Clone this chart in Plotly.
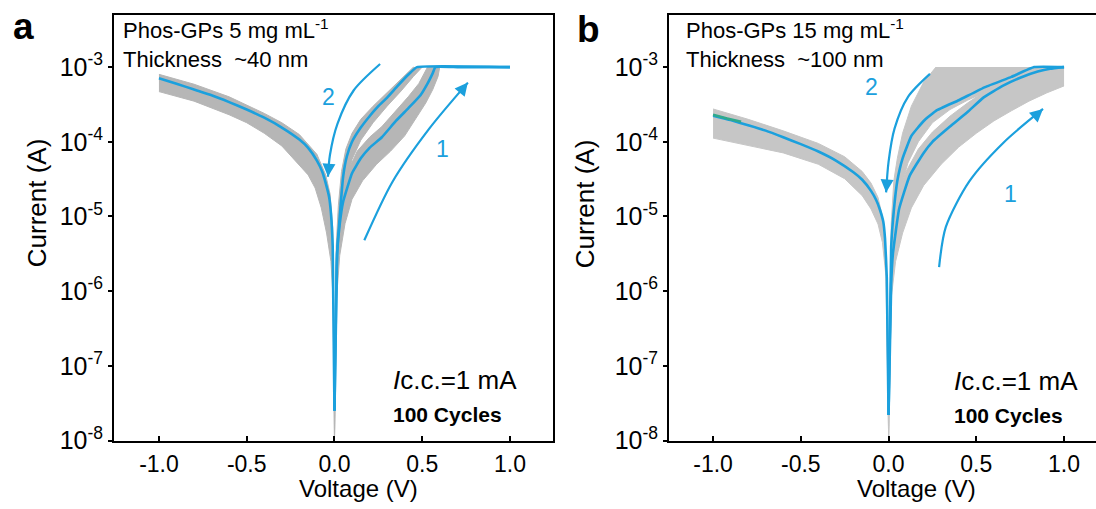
import math
import plotly.graph_objects as go

# ---------------- data ----------------
# Panel a  (Phos-GPs 5 mg/mL, ~40 nm)
a_neg_v = [-1.0, -0.9, -0.8, -0.7, -0.6, -0.5, -0.4, -0.3, -0.2, -0.15, -0.1, -0.07, -0.05, -0.03, -0.02, -0.01, 0.0]
a_neg_i = [7.1e-4, 6.0e-4, 5.0e-4, 4.2e-4, 3.4e-4, 2.7e-4, 2.1e-4, 1.55e-4, 1.07e-4, 8.3e-5, 5.6e-5, 4.0e-5, 2.8e-5, 1.8e-5, 1.1e-5, 4.0e-6, 2.5e-8]
a_set_v = [0.0, 0.015, 0.03, 0.05, 0.1, 0.15, 0.2, 0.27, 0.35, 0.42, 0.49, 0.53, 0.56, 0.575, 0.7, 0.85, 1.0]
a_set_i = [2.5e-8, 3.2e-6, 7.9e-6, 1.6e-5, 3.8e-5, 6.0e-5, 8.3e-5, 1.15e-4, 1.9e-4, 2.8e-4, 4.2e-4, 6.0e-4, 8.3e-4, 1.0e-3, 1.0e-3, 1.0e-3, 1.0e-3]
a_reset_v = [1.0, 0.47, 0.42, 0.36, 0.3, 0.25, 0.2, 0.15, 0.1, 0.07, 0.05, 0.03, 0.015, 0.0]
a_reset_i = [1.0e-3, 1.0e-3, 7.9e-4, 5.6e-4, 3.9e-4, 3.0e-4, 2.2e-4, 1.55e-4, 1.0e-4, 6.3e-5, 3.5e-5, 1.0e-5, 3.2e-6, 2.5e-8]

a_negband_up_v = [-1.0, -0.8, -0.6, -0.5, -0.4, -0.3, -0.2, -0.1, -0.05, -0.025, -0.01, 0.0]
a_negband_up_i = [8.0e-4, 5.9e-4, 4.0e-4, 3.1e-4, 2.4e-4, 1.8e-4, 1.25e-4, 6.8e-5, 3.6e-5, 2.0e-5, 7.0e-6, 1e-8]
a_negband_lo_v = [-1.0, -0.8, -0.6, -0.5, -0.4, -0.3, -0.22, -0.15, -0.11, -0.075, -0.045, -0.02, -0.008, 0.0]
a_negband_lo_i = [4.7e-4, 3.5e-4, 2.3e-4, 1.8e-4, 1.3e-4, 8.8e-5, 5.5e-5, 3.6e-5, 2.4e-5, 1.3e-5, 6.0e-6, 2.5e-6, 8.0e-7, 1e-8]
a_lrsband_up_v = [0.45, 0.38, 0.3, 0.22, 0.15, 0.1, 0.065, 0.04, 0.022, 0.01, 0.0]
a_lrsband_up_i = [1.0e-3, 7.0e-4, 4.6e-4, 3.0e-4, 2.0e-4, 1.3e-4, 8.0e-5, 4.0e-5, 1.4e-5, 4.0e-6, 1e-8]
a_lrsband_lo_v = [0.5, 0.45, 0.38, 0.3, 0.22, 0.15, 0.1, 0.065, 0.04, 0.02, 0.008, 0.0]
a_lrsband_lo_i = [1.0e-3, 7.5e-4, 4.8e-4, 3.0e-4, 1.8e-4, 1.05e-4, 5.8e-5, 2.8e-5, 1.2e-5, 4.0e-6, 1.0e-6, 1e-8]
a_hrsband_up_v = [0.53, 0.48, 0.42, 0.35, 0.27, 0.2, 0.13, 0.08, 0.045, 0.02, 0.008, 0.0]
a_hrsband_up_i = [1.0e-3, 6.0e-4, 4.0e-4, 2.6e-4, 1.6e-4, 1.15e-4, 7.5e-5, 4.2e-5, 2.1e-5, 7.0e-6, 2.0e-6, 1e-8]
a_hrsband_lo_v = [0.6, 0.59, 0.56, 0.52, 0.46, 0.4, 0.32, 0.24, 0.16, 0.1, 0.06, 0.03, 0.012, 0.0]
a_hrsband_lo_i = [1.0e-3, 7.5e-4, 5.0e-4, 3.3e-4, 2.0e-4, 1.2e-4, 7.5e-5, 5.0e-5, 3.0e-5, 1.7e-5, 8.0e-6, 3.0e-6, 8.0e-7, 1e-8]

# Panel b  (Phos-GPs 15 mg/mL, ~100 nm)
b_neg_v = [-1.0, -0.9, -0.8, -0.7, -0.6, -0.5, -0.4, -0.3, -0.2, -0.15, -0.1, -0.07, -0.05, -0.03, -0.02, -0.01, 0.0]
b_neg_i = [2.24e-4, 1.95e-4, 1.66e-4, 1.41e-4, 1.15e-4, 9.3e-5, 7.4e-5, 5.6e-5, 3.9e-5, 3.1e-5, 2.2e-5, 1.65e-5, 1.25e-5, 8.5e-6, 5.0e-6, 1.5e-6, 2.2e-8]
b_green_v = [-1.0, -0.92, -0.84]
b_green_i = [2.3e-4, 2.05e-4, 1.85e-4]
b_set_v = [0.0, 0.015, 0.025, 0.06, 0.12, 0.2, 0.25, 0.35, 0.45, 0.54, 0.65, 0.75, 0.85, 0.92, 1.0]
b_set_i = [2.2e-8, 1.26e-6, 3.2e-6, 1.26e-5, 3.5e-5, 7.1e-5, 1.0e-4, 1.6e-4, 2.5e-4, 3.9e-4, 5.6e-4, 7.2e-4, 8.7e-4, 9.5e-4, 1.0e-3]
b_reset_v = [1.0, 0.83, 0.7, 0.55, 0.4, 0.27, 0.2, 0.13, 0.08, 0.05, 0.03, 0.015, 0.0]
b_reset_i = [1.0e-3, 1.0e-3, 7.4e-4, 5.4e-4, 3.6e-4, 2.6e-4, 1.9e-4, 1.2e-4, 6.0e-5, 3.0e-5, 1.2e-5, 4.0e-6, 2.2e-8]

b_negband_up_v = [-1.0, -0.8, -0.6, -0.4, -0.25, -0.15, -0.1, -0.06, -0.035, -0.015, 0.0]
b_negband_up_i = [2.75e-4, 2.0e-4, 1.4e-4, 9.5e-5, 6.3e-5, 4.0e-5, 2.8e-5, 1.8e-5, 1.0e-5, 3.2e-6, 1.26e-8]
b_negband_lo_v = [-1.0, -0.8, -0.6, -0.4, -0.25, -0.15, -0.1, -0.06, -0.035, -0.015, 0.0]
b_negband_lo_i = [1.12e-4, 8.9e-5, 7.1e-5, 5.0e-5, 3.2e-5, 1.9e-5, 1.26e-5, 7.9e-6, 4.5e-6, 1.6e-6, 1.26e-8]
b_lrsband_up_v = [0.27, 0.2, 0.13, 0.08, 0.05, 0.03, 0.015, 0.0]
b_lrsband_up_i = [1.0e-3, 6.3e-4, 3.0e-4, 1.3e-4, 6.0e-5, 3.0e-5, 8.0e-6, 1e-8]
b_lrsband_lo_v = [0.98, 0.8, 0.6, 0.45, 0.35, 0.25, 0.17, 0.11, 0.07, 0.04, 0.02, 0.0]
b_lrsband_lo_i = [1.0e-3, 7.5e-4, 5.2e-4, 3.6e-4, 2.7e-4, 1.8e-4, 1.0e-4, 5.2e-5, 2.4e-5, 1.0e-5, 3.0e-6, 1e-8]
b_hrsband_up_v = [1.0, 0.8, 0.65, 0.55, 0.45, 0.35, 0.25, 0.17, 0.1, 0.06, 0.03, 0.015, 0.0]
b_hrsband_up_i = [1.0e-3, 8.5e-4, 6.5e-4, 4.8e-4, 3.3e-4, 2.2e-4, 1.35e-4, 8.0e-5, 4.0e-5, 2.0e-5, 8.0e-6, 3.0e-6, 1e-8]
b_hrsband_lo_v = [1.0, 0.9, 0.8, 0.7, 0.6, 0.5, 0.4, 0.3, 0.2, 0.13, 0.08, 0.04, 0.015, 0.0]
b_hrsband_lo_i = [5.6e-4, 4.5e-4, 3.5e-4, 2.6e-4, 1.9e-4, 1.3e-4, 8.5e-5, 5.0e-5, 2.6e-5, 1.3e-5, 6.0e-6, 2.5e-6, 8.0e-7, 1e-8]

# sweep-direction arrows (annotation guides, data coords)
a_arrow1_v = [0.17, 0.33, 0.54, 0.76]
a_arrow1_i = [4.8e-6, 2.9e-5, 1.5e-4, 6.2e-4]
a_arrow2_v = [0.26, 0.11, 0.017, -0.026, -0.037]
a_arrow2_i = [1.1e-3, 4.9e-4, 1.74e-4, 6.6e-5, 3.4e-5]
b_arrow1_v = [0.288, 0.326, 0.46, 0.656, 0.88]
b_arrow1_i = [2.1e-6, 7.2e-6, 2.95e-5, 9.8e-5, 2.75e-4]
b_arrow2_v = [0.236, 0.111, 0.034, 0.0, -0.014]
b_arrow2_i = [8.1e-4, 4.0e-4, 1.5e-4, 5.4e-5, 2.1e-5]

x_tick_vals = [-1.0, -0.5, 0.0, 0.5, 1.0]
x_tick_text = ["-1.0", "-0.5", "0.0", "0.5", "1.0"]
y_tick_vals = [1e-8, 1e-7, 1e-6, 1e-5, 1e-4, 1e-3]
y_tick_text = ["10<sup>-8</sup>", "10<sup>-7</sup>", "10<sup>-6</sup>", "10<sup>-5</sup>",
               "10<sup>-4</sup>", "10<sup>-3</sup>"]

# ---------------- styling ----------------
W, H = 1096, 509
BLUE = "#1BA0DD"
GRAY_A = "#B6B6B6"
GRAY_B = "#C6C6C6"
GREEN = "#2FA98C"
FONT = "Liberation Sans, Arial, sans-serif"


def px(x):
    return x / W


def py(y):
    return 1 - y / H


fig = go.Figure()


def band(up_v, up_i, lo_v, lo_i, xa, ya, color):
    fig.add_trace(go.Scatter(
        x=list(up_v) + list(lo_v)[::-1], y=list(up_i) + list(lo_i)[::-1],
        mode="lines", fill="toself", fillcolor=color, line=dict(color=color, width=1),
        xaxis=xa, yaxis=ya, hoverinfo="skip", showlegend=False))


def curve(v, i, xa, ya, color=BLUE, width=2.6, smooth=0.35):
    fig.add_trace(go.Scatter(
        x=v, y=i, mode="lines", line=dict(color=color, width=width, shape="spline", smoothing=smooth),
        xaxis=xa, yaxis=ya, hoverinfo="skip", showlegend=False))


# panel a
band(a_negband_up_v, a_negband_up_i, a_negband_lo_v, a_negband_lo_i, "x", "y", GRAY_A)
band(a_lrsband_up_v, a_lrsband_up_i, a_lrsband_lo_v, a_lrsband_lo_i, "x", "y", GRAY_A)
band(a_hrsband_up_v, a_hrsband_up_i, a_hrsband_lo_v, a_hrsband_lo_i, "x", "y", GRAY_A)
curve(a_neg_v, a_neg_i, "x", "y")
curve(a_set_v, a_set_i, "x", "y")
curve(a_reset_v, a_reset_i, "x", "y")
curve(a_arrow1_v, a_arrow1_i, "x", "y", width=2.2, smooth=0.8)
curve(a_arrow2_v, a_arrow2_i, "x", "y", width=2.2, smooth=0.8)

# panel b
band(b_negband_up_v, b_negband_up_i, b_negband_lo_v, b_negband_lo_i, "x2", "y2", GRAY_B)
band(b_lrsband_up_v, b_lrsband_up_i, b_lrsband_lo_v, b_lrsband_lo_i, "x2", "y2", GRAY_B)
band(b_hrsband_up_v, b_hrsband_up_i, b_hrsband_lo_v, b_hrsband_lo_i, "x2", "y2", GRAY_B)
curve(b_neg_v, b_neg_i, "x2", "y2")
curve(b_green_v, b_green_i, "x2", "y2", color=GREEN)
curve(b_set_v, b_set_i, "x2", "y2")
curve(b_reset_v, b_reset_i, "x2", "y2")
curve(b_arrow1_v, b_arrow1_i, "x2", "y2", width=2.2, smooth=0.8)
curve(b_arrow2_v, b_arrow2_i, "x2", "y2", width=2.2, smooth=0.8)


def xaxis_cfg(domain, rng, anchor):
    return dict(domain=domain, range=rng, anchor=anchor, tickvals=x_tick_vals, ticktext=x_tick_text,
                ticks="inside", ticklen=5, tickwidth=1.5, tickcolor="black", ticklabelstandoff=2,
                showline=True, linecolor="black", linewidth=2, mirror=True,
                showgrid=False, zeroline=False, tickfont=dict(family=FONT, size=23, color="black"))


def yaxis_cfg(anchor, mirror):
    return dict(domain=[py(453), py(15)], type="log", range=[-8, -2.297], anchor=anchor,
                tickvals=y_tick_vals, ticktext=y_tick_text,
                ticks="outside", ticklen=4, tickwidth=1.5, tickcolor="black",
                showline=True, linecolor="black", linewidth=2, mirror=mirror,
                showgrid=False, zeroline=False, tickfont=dict(family=FONT, size=25, color="black"))


annotations = []


def text(x, y, s, size=22, bold=False, xanchor="left", angle=0, color="black"):
    annotations.append(dict(x=px(x), y=py(y), xref="paper", yref="paper", text=s, showarrow=False,
                            xanchor=xanchor, yanchor="middle", textangle=angle, align="left",
                            borderpad=0,
                            font=dict(family=FONT, size=size, color=color,
                                      weight="bold" if bold else "normal")))


def head(v, i, ax, ay, xr, yr):
    annotations.append(dict(x=v, y=math.log10(i), xref=xr, yref=yr, ax=ax, ay=ay, text="",
                            showarrow=True, arrowhead=2, arrowsize=1.3, arrowwidth=2,
                            arrowcolor=BLUE, standoff=0))


def label(v, logi, s, xr, yr):
    annotations.append(dict(x=v, y=logi, xref=xr, yref=yr, text=s, showarrow=False,
                            font=dict(family=FONT, size=23, color=BLUE)))


# panel letters
text(23, 27, "a", size=37, bold=True, xanchor="center")
text(588, 30, "b", size=37, bold=True, xanchor="center")
# headers (two lines each)
text(122, 45, "Phos-GPs 5 mg mL<sup>-1</sup><br>Thickness\u00a0 ~40 nm", size=22)
text(685, 45, "Phos-GPs 15 mg mL<sup>-1</sup><br>Thickness\u00a0 ~100 nm", size=22)
# conditions
text(392, 391, "<i>I</i>c.c.=1 mA", size=26)
text(392, 426, "100 Cycles", size=21, bold=True)
text(953, 392, "<i>I</i>c.c.=1 mA", size=26)
text(953, 427, "100 Cycles", size=21, bold=True)
# axis titles
text(37, 209, "Current (A)", size=26, xanchor="center", angle=-90)
text(585, 209, "Current (A)", size=26, xanchor="center", angle=-90)
text(358, 502, "Voltage (V)", size=24, xanchor="center")
text(916, 502, "Voltage (V)", size=24, xanchor="center")

# arrow heads and labels
head(a_arrow1_v[-1], a_arrow1_i[-1], -9, 11, "x", "y")
head(a_arrow2_v[-1], a_arrow2_i[-1], 1, -13, "x", "y")
head(b_arrow1_v[-1], b_arrow1_i[-1], -10, 9, "x2", "y2")
head(b_arrow2_v[-1], b_arrow2_i[-1], 1, -13, "x2", "y2")
label(0.617, -4.09, "1", "x", "y")
label(-0.034, -3.40, "2", "x", "y")
label(0.695, -4.70, "1", "x2", "y2")
label(-0.10, -3.27, "2", "x2", "y2")

fig.update_layout(
    width=W, height=H, margin=dict(l=0, r=0, t=0, b=0),
    paper_bgcolor="white", plot_bgcolor="white", showlegend=False,
    font=dict(family=FONT, color="black"),
    xaxis=xaxis_cfg([px(114), px(553)], [-1.256, 1.245], "y"),
    yaxis=yaxis_cfg("x", True),
    xaxis2=xaxis_cfg([px(669), 1.0], [-1.251, 1.182], "y2"),
    yaxis2=yaxis_cfg("x2", False),
    annotations=annotations,
)

fig.write_html("out.html")
